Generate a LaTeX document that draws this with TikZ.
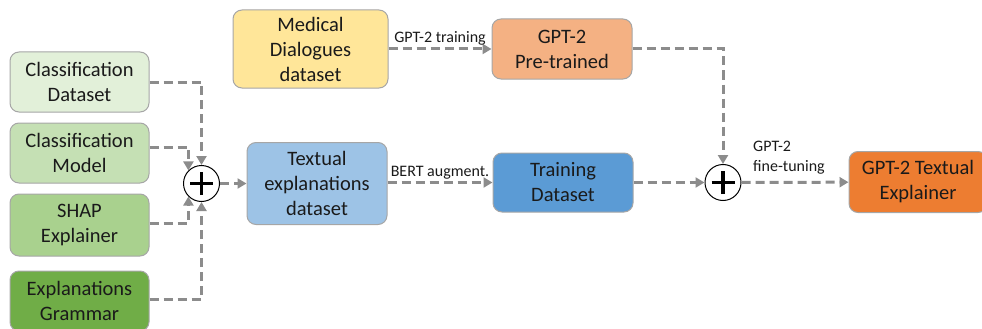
\documentclass[tikz,border=0pt]{standalone}
\usepackage{fontspec}
\setmainfont{Carlito}
\usetikzlibrary{arrows.meta}

% Colours of the boxes (Office palette)
\definecolor{cdfill}{HTML}{E2F0D9}
\definecolor{cmfill}{HTML}{C5E0B4}
\definecolor{shapfill}{HTML}{A9D18E}
\definecolor{gramfill}{HTML}{70AD47}
\definecolor{medfill}{HTML}{FFE699}
\definecolor{prefill}{HTML}{F4B183}
\definecolor{texpfill}{HTML}{9DC3E6}
\definecolor{trainfill}{HTML}{5B9BD5}
\definecolor{explfill}{HTML}{ED7D31}
\definecolor{boxgray}{HTML}{A6A6A6}
\definecolor{flowgray}{HTML}{8C8C8C}
\definecolor{textblack}{HTML}{1A1A1A}

\begin{document}
\begin{tikzpicture}[x=1pt,y=-1pt,
    box/.style={draw=boxgray, line width=1pt, rounded corners=9pt, align=center,
      inner sep=0pt, text=textblack, font=\fontsize{20.5}{25}\selectfont},
    flow/.style={draw=flowgray, line width=3pt, dash pattern=on 9pt off 5pt,
      -{Triangle[length=9pt,width=10pt]}},
    note/.style={text=textblack, inner sep=2pt, font=\fontsize{16}{20}\selectfont},
    sum/.style={circle, draw=black, line width=1pt, fill=white,
      minimum size=36pt, inner sep=0pt}]

    % Fix the page to the size of the reference
    \useasboundingbox (0,0) rectangle (982,329);

    % Input boxes on the left
    \node[box, fill=cdfill, minimum width=139pt, minimum height=60pt] (cdata) at (79.5,82) {Classification\\Dataset};
    \node[box, fill=cmfill, minimum width=139pt, minimum height=60pt] (cmodel) at (79.5,153) {Classification\\Model};
    \node[box, fill=shapfill, minimum width=139pt, minimum height=62pt] (shap) at (79.5,225) {SHAP\\Explainer};
    \node[box, fill=gramfill, minimum width=139pt, minimum height=60pt] (grammar) at (79.5,301) {Explanations\\Grammar};

    % The two sums
    \node[sum] (sumA) at (201.5,183.5) {};
    \node[sum] (sumB) at (723,182.5) {};

    % Middle and right boxes
    \node[box, fill=medfill, minimum width=155pt, minimum height=78pt] (medical) at (310.5,49) {Medical\\Dialogues\\dataset};
    \node[box, fill=prefill, minimum width=140pt, minimum height=60pt] (pretrained) at (562,49) {GPT-2\\Pre-trained};
    \node[box, fill=texpfill, minimum width=140pt, minimum height=82pt] (texp) at (317,183.5) {Textual\\explanations\\dataset};
    \node[box, fill=trainfill, minimum width=140pt, minimum height=59pt] (train) at (563,182.5) {Training\\Dataset};
    \node[box, fill=explfill, minimum width=138pt, minimum height=61pt] (explainer) at (918,182) {GPT-2 Textual\\Explainer};

    % Plus signs inside the sums
    \foreach \s in {sumA, sumB}{
      \draw[line width=3.5pt] ([xshift=-11.5pt]\s.center) -- ([xshift=11.5pt]\s.center);
      \draw[line width=3.5pt] ([yshift=-11.5pt]\s.center) -- ([yshift=11.5pt]\s.center);
    }

    % Inputs joined in the first sum
    \draw[flow] (cdata.east) -| (sumA.north);
    \draw[flow] ([yshift=6pt]cmodel.east) -| (sumA.north west);
    \draw[flow] ([yshift=2pt]shap.east) -| (sumA.south west);
    \draw[flow] ([yshift=2pt]grammar.east) -| (sumA.south);
    \draw[flow] (sumA) -- (texp);

    % Training steps
    \draw[flow] (medical) -- node[note, above] {GPT-2 training} (pretrained);
    \draw[flow] (texp.east |- train.west) -- node[note, above] {BERT augment.} (train.west);
    \draw[flow] (pretrained.east) -| (sumB.north);
    \draw[flow] (train) -- (sumB);
    \draw[flow] (sumB) -- (explainer);

    % Label of the last step
    \node[note, align=left, anchor=west] (ftlabel) at (751,158) {GPT-2\\fine-tuning};

\end{tikzpicture}
\end{document}
